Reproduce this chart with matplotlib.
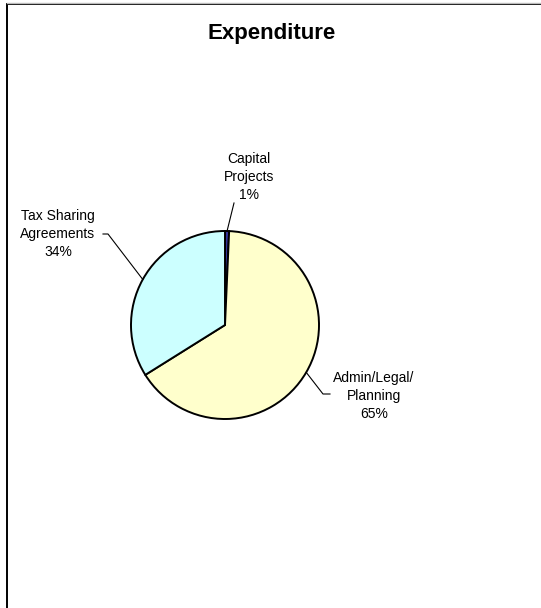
"""Expenditure breakdown pie chart."""

import matplotlib.pyplot as plt
import numpy as np
from matplotlib.patches import Rectangle

plt.rcParams["font.family"] = ["Liberation Sans", "DejaVu Sans"]

W_PX, H_PX = 541, 608

categories = ["Capital\nProjects", "Admin/Legal/\nPlanning", "Tax Sharing\nAgreements"]
shares = [0.7, 65.4, 33.9]
colors = ["#333399", "#FFFFCC", "#CCFFFF"]

# label anchor (text centre, top-down pixels) and leader-line bends
label_pos = [(249, 177), (374, 396), (58, 234)]
leader_end = [[(234, 203)], [(323, 394), (330, 394)], [(108, 234), (103, 234)]]

PIE_CENTER = (225, 325)
PIE_RADIUS = 94


def yflip(y):
    return H_PX - y


def main() -> None:
    fig = plt.figure(figsize=(W_PX / 100, H_PX / 100), dpi=100)
    ax = fig.add_axes([0, 0, 1, 1])

    cx, cy = PIE_CENTER[0], yflip(PIE_CENTER[1])
    wedges, _ = ax.pie(
        shares,
        colors=colors,
        startangle=90,
        counterclock=False,
        center=(cx, cy),
        radius=PIE_RADIUS,
        wedgeprops=dict(edgecolor="black", linewidth=1.4),
    )
    ax.set_xlim(0, W_PX)
    ax.set_ylim(0, H_PX)
    ax.axis("off")

    for wedge, name, share, (tx, ty), bends in zip(
        wedges, categories, shares, label_pos, leader_end
    ):
        mid = np.deg2rad((wedge.theta1 + wedge.theta2) / 2)
        x0 = cx + PIE_RADIUS * np.cos(mid)
        y0 = cy + PIE_RADIUS * np.sin(mid)
        xs = [x0] + [b[0] for b in bends]
        ys = [y0] + [yflip(b[1]) for b in bends]
        ax.plot(xs, ys, color="black", linewidth=0.8)
        ax.text(
            tx,
            yflip(ty),
            f"{name}\n{share:.0f}%",
            ha="center",
            va="center",
            fontsize=10,
            linespacing=1.33,
            color="black",
        )

    fig.text(
        272 / W_PX,
        1 - 33 / H_PX,
        "Expenditure",
        ha="center",
        va="center",
        fontsize=16,
        fontweight="bold",
    )

    # chart-area frame running off the right and bottom edges
    fig.add_artist(
        Rectangle(
            (7 / W_PX, -0.1),
            1.2,
            1.1 - 4.5 / H_PX,
            transform=fig.transFigure,
            fill=False,
            edgecolor="black",
            linewidth=1.4,
        )
    )
    fig.add_artist(
        plt.Line2D([7 / W_PX, 1], [1 - 2.5 / H_PX] * 2, transform=fig.transFigure,
                   color="#bbbbbb", linewidth=1)
    )

    fig.savefig("out.png", dpi=100)


if __name__ == "__main__":
    main()
